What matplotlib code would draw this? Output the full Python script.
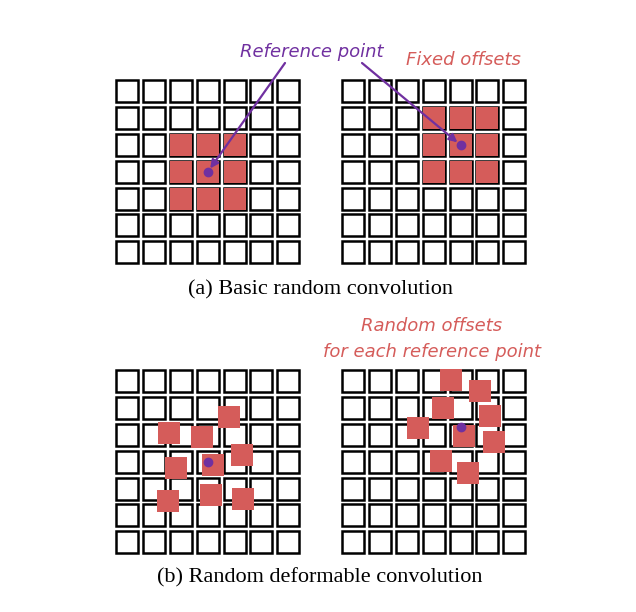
import matplotlib.pyplot as plt
from matplotlib.patches import Rectangle, FancyArrowPatch

RED = "#d55c5a"
PURPLE = "#7030a0"

n_cells = 7
pitch = 26.8
cell = 22
grid_origins = [(114, 78), (340, 78), (114, 368), (340, 368)]
# reference point per grid, in cell units (col, row centre)
ref_points = [(3.5, 3.5), (4.5, 2.5), (3.5, 3.5), (4.5, 2.2)]

# fixed 3x3 offsets for (a)
fixed_offsets = [(dx, dy) for dy in (-1, 0, 1) for dx in (-1, 0, 1)]
# random offsets for (b), in cell units relative to the reference point
rand_left = [(0.78, -1.68), (-1.46, -1.08), (-0.22, -0.93), (1.27, -0.26), (-1.19, 0.22),
             (0.19, 0.11), (-1.49, 1.46), (0.11, 1.23), (1.31, 1.38)]
rand_right = [(-0.34, -1.75), (0.71, -1.34), (-0.67, -0.71), (1.08, -0.41), (-1.60, 0.04),
              (0.11, 0.34), (1.23, 0.56), (-0.75, 1.27), (0.26, 1.72)]
offsets = [fixed_offsets, fixed_offsets, rand_left, rand_right]

fig = plt.figure(figsize=(6.36, 6.12), dpi=100)
ax = fig.add_axes([0, 0, 1, 1])
ax.set_xlim(0, 636)
ax.set_ylim(612, 0)
ax.axis("off")

ref_px = []
for (x0, y0), (rc, rr), offs in zip(grid_origins, ref_points, offsets):
    gap = (pitch - cell) / 2
    for r in range(n_cells):
        for c in range(n_cells):
            ax.add_patch(Rectangle((x0 + c * pitch + gap, y0 + r * pitch + gap), cell, cell,
                                   fill=False, ec="black", lw=1.8))
    cx, cy = x0 + rc * pitch, y0 + rr * pitch
    for dx, dy in offs:
        ax.add_patch(Rectangle((cx + dx * pitch - cell / 2, cy + dy * pitch - cell / 2),
                               cell, cell, fc=RED, ec="none", zorder=3))
    ax.plot(cx, cy, "o", color=PURPLE, ms=6, zorder=4)
    ref_px.append((cx, cy))

serif = ["Liberation Serif", "DejaVu Serif"]
ax.text(320, 290, "(a) Basic random convolution", ha="center", va="center", fontsize=16, family=serif)
ax.text(320, 578, "(b) Random deformable convolution", ha="center", va="center", fontsize=16, family=serif)

ax.text(312, 52, "Reference point", color=PURPLE, style="italic", ha="center", va="center", fontsize=13)
ax.text(463, 60, "Fixed offsets", color=RED, style="italic", ha="center", va="center", fontsize=13)
ax.text(432, 326, "Random offsets", color=RED, style="italic", ha="center", va="center", fontsize=13)
ax.text(432, 352, "for each reference point", color=RED, style="italic", ha="center", va="center", fontsize=13)

for start, p in [((285, 63), ref_px[0]), ((362, 63), ref_px[1])]:
    ax.add_patch(FancyArrowPatch(start, p, arrowstyle="-|>", mutation_scale=12,
                                 color=PURPLE, lw=1.6, shrinkA=0, shrinkB=3, zorder=5))

fig.savefig("out.png", dpi=100)
